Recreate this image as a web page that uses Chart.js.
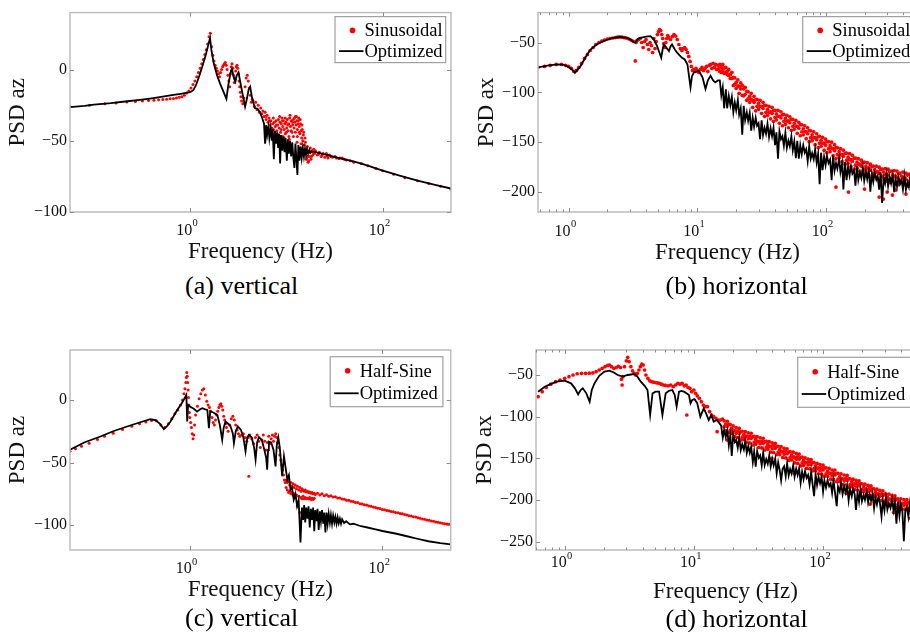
<!DOCTYPE html>
<html><head><meta charset="utf-8">
<script src="https://cdn.jsdelivr.net/npm/chart.js@4.4.1/dist/chart.umd.min.js"></script>
<style>
html,body{margin:0;padding:0;background:#fff;width:910px;height:632px;overflow:hidden;position:relative;}
canvas.panel{position:absolute;}
.cap{position:absolute;width:300px;text-align:center;font-family:"Liberation Serif",serif;font-size:26px;line-height:30px;color:#000;white-space:nowrap;}
</style></head><body>
<canvas id="ca" class="panel" style="left:0px;top:0px" width="460" height="268"></canvas>
<canvas id="cb" class="panel" style="left:455px;top:0px" width="470" height="268"></canvas>
<canvas id="cc" class="panel" style="left:0px;top:330px" width="460" height="276"></canvas>
<canvas id="cd" class="panel" style="left:455px;top:330px" width="470" height="276"></canvas>
<div class="cap" style="left:91.7px;top:271px">(a) vertical</div>
<div class="cap" style="left:586.7px;top:271px">(b) horizontal</div>
<div class="cap" style="left:91.7px;top:603.3px">(c) vertical</div>
<div class="cap" style="left:586.7px;top:604.3px">(d) horizontal</div>
<script>
// ---------- DATA (frequency in Hz, PSD in dB) ----------
const legendLabelsTop = ['Sinusoidal', 'Optimized'];
const legendLabelsBottom = ['Half-Sine', 'Optimized'];
const yTitles = ['PSD az', 'PSD ax', 'PSD az', 'PSD ax'];
const xTitle = 'Frequency (Hz)';

const xTicksAC = [1, 100];
const xTickBasesAC = ['10', '10'];
const xTickExpsAC = ['0', '2'];
const xTicksBD = [1, 10, 100];
const xTickBasesBD = ['10', '10', '10'];
const xTickExpsBD = ['0', '1', '2'];
const yTicksA = [-100, -50, 0];
const yTicksB = [-200, -150, -100, -50];
const yTicksC = [-100, -50, 0];
const yTicksD = [-250, -200, -150, -100, -50];

// Panel (a) vertical
const aOptimized = [[0.0565,-26.3],[0.08,-25.5],[0.1,-24.6],[0.15,-23.6],[0.2,-22.6],[0.3,-21.3],[0.4,-20.2],[0.5,-19.2],[0.6,-18.3],[0.7,-17.6],[0.8,-17],[0.9,-16.4],[1.0,-15.8],[1.08,-14.5],[1.15,-11],[1.25,-4],[1.35,3],[1.45,10],[1.55,18],[1.61,22],[1.66,14],[1.75,5],[1.9,-4],[2.05,-10],[2.2,-15],[2.38,-20.5],[2.5,-10],[2.65,-1],[2.72,0.5],[2.85,-6],[2.95,-8.5],[3.05,-4],[3.18,-2],[3.3,-8],[3.5,-17],[3.72,-26],[3.9,-20],[4.05,-14],[4.2,-12],[4.4,-20],[4.7,-27],[5.0,-27.5],[5.3,-30],[5.6,-34],[5.85,-38],[6.0,-52],[6.15,-39],[6.3,-46],[6.5,-40],[6.65,-48],[6.85,-41],[7.05,-50],[7.2,-42],[7.4,-63],[7.6,-43],[7.8,-52],[8.0,-44],[8.2,-55],[8.4,-45],[8.6,-66],[8.8,-46],[9.05,-57],[9.3,-47],[9.55,-58],[9.8,-48],[10.1,-64],[10.35,-49],[10.6,-59],[10.9,-50],[11.2,-61],[11.5,-51],[11.8,-62],[12.1,-69],[12.4,-52],[12.7,-63],[13.0,-74],[13.3,-53],[13.65,-64],[14.0,-54],[14.4,-62],[14.8,-55],[15.2,-61],[15.6,-55.5],[16.0,-60],[16.4,-56],[16.8,-59],[17.3,-56.5],[17.8,-58.5],[18.3,-57.5],[20,-58],[25,-59.5],[30,-61],[40,-63],[50,-64.5],[70,-67.5],[100,-71],[150,-74.5],[230,-78],[350,-81],[512,-83.5]];
const aSinusoidal = [[0.0565,-26],[0.09,-25],[0.13,-24],[0.17,-23.5],[0.22,-22.8],[0.27,-22.5],[0.32,-22],[0.37,-21.8],[0.42,-21.5],[0.47,-21.2],[0.52,-21],[0.57,-20.8],[0.62,-20.5],[0.67,-20.3],[0.72,-20],[0.77,-19.5],[0.82,-19],[0.87,-18],[0.92,-16.5],[0.97,-15],[1.02,-13],[1.07,-10.5],[1.12,-8],[1.17,-5],[1.22,-2],[1.27,1],[1.32,4],[1.37,7],[1.42,10.5],[1.47,14],[1.52,18],[1.57,23],[1.62,25.5],[1.67,16],[1.72,10],[1.77,6],[1.82,3],[1.87,1],[1.92,-1],[1.97,-3],[2.02,-5],[2.07,-2],[2.12,0],[2.17,2],[2.22,3],[2.27,4],[2.32,5],[2.37,3],[2.42,0],[2.47,-4],[2.52,-8],[2.57,-12],[2.62,-3],[2.67,2],[2.72,4],[2.77,1],[2.82,-4],[2.87,-9],[2.92,-6],[2.97,-1],[3.02,2],[3.07,3],[3.12,1],[3.17,-3],[3.22,-8],[3.27,-12],[3.32,-16],[3.37,-19],[3.42,-22],[3.52,-24],[3.62,-20],[3.72,-12],[3.82,-6],[3.92,-4],[4.02,-8],[4.12,-13],[4.22,-18],[4.32,-23],[4.42,-21],[4.5,-22],[4.65,-26],[4.8,-23],[4.95,-28],[5.1,-25],[5.25,-30],[5.4,-27],[5.55,-31],[5.7,-29],[5.85,-33],[6.0,-30],[6.1,-33],[6.15,-35],[6.3,-32],[6.4,-41],[6.45,-37],[6.6,-34],[6.7,-36],[6.75,-39],[6.9,-36],[7.0,-45],[7.05,-41],[7.2,-38],[7.2,-48],[7.3,-34],[7.35,-42],[7.5,-37],[7.6,-46],[7.65,-40],[7.8,-36],[7.9,-39],[7.95,-43],[8.0,-50],[8.1,-39],[8.2,-47],[8.25,-35],[8.4,-41],[8.5,-33],[8.55,-37],[8.7,-44],[8.8,-42],[8.85,-38],[9.0,-34],[9.1,-36],[9.15,-40],[9.2,-47],[9.3,-36],[9.4,-48],[9.45,-42],[9.6,-38],[9.7,-34],[9.75,-45],[9.9,-37],[10.0,-44],[10.05,-41],[10.2,-35],[10.3,-39],[10.4,-43],[10.6,-38],[10.6,-47],[10.7,-49],[10.8,-34],[10.9,-32],[11.0,-40],[11.2,-36],[11.2,-43],[11.4,-44],[11.5,-37],[11.6,-39],[11.8,-35],[11.8,-47],[12.0,-41],[12.1,-34],[12.2,-37],[12.4,-33],[12.4,-44],[12.6,-39],[12.7,-33],[12.8,-36],[12.9,-51],[13.0,-42],[13.0,-47],[13.2,-38],[13.3,-36],[13.4,-34],[13.6,-40],[13.6,-44],[13.8,-45],[13.9,-35],[14.0,-38],[14.1,-55],[14.2,-43],[14.2,-52],[14.4,-48],[14.5,-39],[14.6,-42],[14.8,-50],[14.8,-57],[15.0,-46],[15.1,-44],[15.2,-60],[15.3,-53],[15.4,-58],[15.6,-48],[15.7,-51],[15.9,-56],[16.0,-58],[16.0,-63],[16.2,-62],[16.3,-57],[16.5,-54],[16.6,-61],[16.8,-65],[17.0,-64],[17.1,-58],[17.4,-61],[17.5,-58],[17.7,-55],[18.0,-63],[18.2,-61],[18.4,-57],[18.8,-60],[19,-58],[19.2,-56],[19.6,-59],[20,-57],[21,-60],[21.5,-59.5],[22,-58],[23,-61],[23.5,-60],[24,-59],[25,-61.5],[26,-59],[26.5,-60.5],[27,-62],[28,-60],[29,-61],[30,-61.5],[32,-61],[33,-62],[35,-62.5],[36,-62],[38,-62],[40,-63],[42,-63.5],[46,-64],[50,-65],[60,-66],[70,-67.5],[85,-69.5],[100,-71],[130,-73.5],[170,-76],[230,-78],[300,-80],[400,-82],[512,-84]];

// Panel (b) horizontal
const bOptimized = [[0.578,-75],[0.7,-73],[0.82,-72],[0.92,-72.5],[1.0,-74.5],[1.08,-78],[1.12,-80.5],[1.18,-77],[1.24,-73.5],[1.35,-65],[1.48,-57],[1.65,-52],[1.88,-48.5],[2.18,-45.5],[2.5,-44.5],[2.8,-45],[3.03,-47],[3.2,-49.5],[3.31,-50],[3.45,-46.5],[3.62,-45.3],[4.0,-44],[4.33,-43.6],[4.6,-47],[4.88,-53.6],[5.08,-60],[5.25,-65.2],[5.4,-56],[5.5,-52],[5.75,-55],[6.03,-58.6],[6.2,-54],[6.37,-52],[6.7,-57],[6.98,-60.2],[7.3,-63],[7.62,-65.2],[8.0,-67],[8.4,-72],[8.87,-95],[9.1,-84],[9.42,-80.1],[10.3,-78.4],[11.0,-85],[11.6,-96.7],[12.1,-88],[12.7,-83.4],[13.3,-88],[13.8,-90],[14.5,-88],
[15,-88],[15.4,-103],[15.8,-95],[16.2,-116],[16.7,-97],[17.1,-116],[17.6,-103.5],[18.1,-113],[18.6,-104.5],[19.1,-120],[19.6,-110],[20.1,-118],[20.7,-107.5],[21.2,-122.5],[21.8,-116],[22.4,-142.5],[23.0,-113.5],[23.6,-128],[24.3,-120],[24.9,-128.5],[25.6,-120.5],[26.3,-138.5],[27.0,-125.5],[27.7,-134.5],[28.5,-125.5],[29.2,-133.5],[30.0,-131],[30.8,-147],[31.7,-128],[32.5,-143],[33.4,-135.5],[34.3,-141.5],[35.2,-131.5],[36.2,-145],[37.2,-136],[38.2,-144],[39.2,-135.5],[40.3,-153],[41.3,-140],[42.5,-166.5],[43.6,-139],[44.8,-147],[46.0,-144],[47.2,-153.5],[48.5,-140.5],[49.8,-155.5],[51.2,-148.5],[52.5,-154],[54.0,-144],[55.4,-158],[56.9,-149],[58.5,-166],[60.0,-148.5],[61.7,-166.5],[63.3,-153],[65.0,-162],[66.8,-153],[68.6,-160.5],[70.4,-157],[72.3,-169],[74.3,-154],[76.3,-166.5],[78.3,-161],[80.5,-167],[82.6,-157],[84.9,-170.5],[87.2,-161.5],[89.5,-192],[91.9,-160.5],[94.4,-178],[97.0,-164.5],[99.6,-173],[102,-163.5],[105,-171],[108,-167.5],[111,-188],[114,-163.5],[117,-178.5],[120,-171],[123,-176.5],[127,-166.5],[130,-180],[134,-171],[137,-197.5],[141,-170],[145,-188],[149,-174.5],[153,-183.5],[157,-174],[161,-181.5],[166,-178],[170,-193.5],[175,-174],[179,-188],[184,-180.5],[189,-186],[194,-175.5],[199,-189],[205,-179.5],[210,-187],[216,-178],[222,-199.5],[228,-182],[234,-190],[240,-180.5],[247,-187.5],[253,-184],[260,-197.5],[267,-180],[274,-211],[282,-186.5],[289,-191.5],[297,-181],[305,-194],[313,-184.5],[322,-191.5],[331,-183],[340,-200],[349,-186.5],[358,-194.5],[368,-185],[378,-192],[388,-188],[398,-197.5],[409,-183.5],[420,-197.5],[431,-190],[443,-195],[455,-184],[467,-197],[480,-187],[493,-194],[506,-185],[512,-192]];
const bSinusoidalLow = [[0.578,-75],[0.65,-74],[0.72,-73],[0.8,-72],[0.88,-72],[0.95,-73],[1.0,-74],[1.05,-76],[1.1,-79],[1.15,-78],[1.2,-75],[1.26,-71],[1.33,-66],[1.4,-62],[1.47,-58],[1.55,-55],[1.63,-52],[1.72,-50],[1.81,-48.5],[1.9,-47.5],[2.0,-46.5],[2.1,-46],[2.2,-45.5],[2.3,-45],[2.4,-44.5],[2.5,-44.3],[2.6,-44.5],[2.7,-45],[2.8,-45.5],[2.9,-46],[3.0,-47],[3.1,-48],[3.2,-49],[3.3,-68.5],[3.35,-50],[3.4,-48],[3.5,-47],[3.6,-46],[3.7,-50],[3.8,-55],[3.9,-49],[4.0,-47],[4.1,-52],[4.2,-57],[4.3,-50],[4.4,-53],[4.5,-60],[4.6,-46],[4.7,-56],[4.8,-49],[4.9,-42],[5.0,-39],[5.1,-37],[5.2,-38],[5.3,-42],[5.4,-46],[5.5,-51],[5.6,-55],[5.7,-50],[5.8,-46],[5.9,-43],[6.0,-45],[6.2,-47],[6.4,-44],[6.6,-42],[6.8,-43.5],[7.0,-47],[7.2,-52],[7.4,-56],[7.6,-58],[7.8,-56],[8.0,-55],[8.2,-57],[8.4,-60],[8.6,-64],[8.8,-69],[9.0,-74],[9.2,-78],[9.4,-77],[9.6,-79],[9.8,-76],[10.0,-78],[10.3,-80],[10.6,-77],[10.9,-75],[11.2,-78],[11.5,-76],[11.8,-74],[12.1,-79],[12.4,-73],[12.7,-72],[13.0,-76],[13.3,-71],[13.6,-75],[13.9,-72],[14.2,-77],[14.5,-73],[14.8,-76],[120,-195],[150,-200],[200,-197],[260,-205],[280,-207],[300,-200],[330,-203],[350,-198],[420,-202]];
// high-frequency cloud: [frequency, value, value]
const bSinusoidalHigh = [[15,-72,-79],[15.4,-75,-80],[15.8,-72,-78],[16.2,-75.5,-81],[16.7,-75,-80],[17.1,-79,-82],[17.6,-77,-83],[18.1,-82,-86],[18.6,-80,-86],[19.1,-85,-93],[19.6,-85.5,-92],[20.1,-90,-96],[20.7,-87.5,-93.5],[21.2,-94,-101],[21.8,-90.5,-96.5],[22.4,-93,-103],[23.0,-96.5,-103.5],[23.6,-95,-102],[24.3,-99,-108],[24.9,-99.5,-106.5],[25.6,-104,-110],[26.3,-101,-107],[27.0,-108,-115],[27.7,-104,-110],[28.5,-107.5,-118.5],[29.2,-107,-114],[30.0,-111,-117],[30.8,-108,-114],[31.7,-114,-121],[32.5,-110,-116],[33.4,-113,-124],[34.3,-113,-120],[35.2,-117,-123],[36.2,-114,-120],[37.2,-119.5,-126.5],[38.2,-115,-121],[39.2,-118,-129],[40.3,-118,-125],[41.3,-121.5,-127.5],[42.5,-118,-124],[43.6,-124,-131],[44.8,-119.5,-125.5],[46.0,-122.5,-133.5],[47.2,-122,-129],[48.5,-126,-132],[49.8,-123,-129],[51.2,-128.5,-135.5],[52.5,-124.5,-130.5],[54.0,-127,-138],[55.4,-127,-134],[56.9,-131,-137],[58.5,-128,-134],[60.0,-134,-141],[61.7,-130,-136],[63.3,-132.5,-143.5],[65.0,-132.5,-139.5],[66.8,-136.5,-142.5],[68.6,-133.5,-139.5],[70.4,-139.5,-146.5],[72.3,-135.5,-141.5],[74.3,-138.5,-149.5],[76.3,-138.5,-145.5],[78.3,-142.5,-148.5],[80.5,-139.5,-145.5],[82.6,-145.5,-152.5],[84.9,-141.5,-147.5],[87.2,-144.5,-155.5],[89.5,-144,-151],[91.9,-148,-154],[94.4,-145,-151],[97.0,-151,-158],[99.6,-147,-153],[102,-149.5,-160.5],[105,-149.5,-156.5],[108,-153.5,-159.5],[111,-150,-156],[114,-156.5,-163.5],[117,-152.5,-158.5],[120,-155.5,-166.5],[123,-155.5,-162.5],[127,-159.5,-165.5],[130,-156.5,-162.5],[134,-162.5,-169.5],[137,-158,-164],[141,-161,-172],[145,-161,-168],[149,-165,-171],[153,-161.5,-167.5],[157,-167.5,-174.5],[161,-163,-169],[166,-166,-177],[170,-166,-173],[175,-170,-176],[179,-166.5,-172.5],[184,-172,-179],[189,-168,-174],[194,-170.5,-181.5],[199,-170,-177],[205,-174,-180],[210,-170.5,-176.5],[216,-176,-183],[222,-172,-178],[228,-174.5,-185.5],[234,-174,-181],[240,-177.5,-183.5],[247,-174,-180],[253,-179.5,-186.5],[260,-175,-181],[267,-177.5,-188.5],[274,-177,-184],[282,-180,-186],[289,-176.5,-182.5],[297,-182,-189],[305,-177,-183],[313,-179.5,-190.5],[322,-179,-186],[331,-182.5,-188.5],[340,-178.5,-184.5],[349,-184,-191],[358,-179,-185],[368,-181.5,-192.5],[378,-181,-188],[388,-184,-190],[398,-180,-186],[409,-185.5,-192.5],[420,-181,-187],[431,-183,-194],[443,-182,-189],[455,-185.5,-191.5],[467,-181.5,-187.5],[480,-187,-194],[493,-182,-188],[506,-184,-195],[512,-183,-190]];

// Panel (c) vertical
const cOptimized = [[0.057,-39.8],[0.08,-34],[0.118,-29.2],[0.16,-25],[0.223,-21.2],[0.3,-18],[0.39,-15.4],[0.44,-16],[0.49,-19],[0.537,-23.3],[0.58,-21],[0.63,-17.2],[0.74,-8],[0.82,-3],[0.9,2.6],[0.92,4],[0.94,-17.2],[0.96,-4],[1.0,-5.3],[1.1,-7],[1.19,-9.3],[1.28,-7.5],[1.35,-6.6],[1.45,-7.5],[1.52,-8],[1.58,-22.6],[1.63,-9],[1.75,-10],[1.93,-11.9],[2.05,-20],[2.17,-31.8],[2.25,-22],[2.35,-17.2],[2.5,-19],[2.65,-21.2],[2.8,-27],[2.87,-34.5],[3.0,-25],[3.15,-21.2],[3.4,-24],[3.6,-30],[3.79,-41.1],[3.95,-30],[4.1,-27.9],[4.4,-30],[4.65,-38],[4.82,-47.8],[5.0,-34],[5.22,-29.7],[5.6,-32],[5.95,-40],[6.2,-46],[6.36,-55.7],[6.5,-40],[6.62,-33.2],[7.0,-34],[7.4,-40],[7.77,-53.1],[8.0,-36],[8.3,-30],[8.6,-38],[9.1,-61],[9.5,-45],[10.3,-63.7],[10.7,-60],[11.1,-71.6],[11.5,-70],[12.0,-79.6],[12.5,-75],[13.0,-84.9],[13.5,-80],[14.1,-114],[14.6,-86],[15.0,-96],[15.4,-84],[15.8,-98],[16.2,-86],[16.7,-95],[17.1,-85],[17.6,-102],[18.1,-87],[18.6,-96],[19.1,-86],[19.6,-105],[20.1,-88],[20.7,-97],[21.2,-87],[21.8,-104],[22.4,-89],[23.0,-97],[23.6,-88],[24.3,-99],[24.9,-90],[25.6,-106],[26.3,-90],[27.0,-99],[27.7,-91],[28.5,-98],[29.2,-92],[30.0,-99],[30.8,-92.5],[31.7,-98],[32.5,-93.5],[33.4,-99],[34.3,-94],[35.2,-98.5],[36.2,-95],[37.2,-99],[38.2,-95.5],[40,-98.5],[42,-97],[46,-99.5],[50,-99],[60,-101],[70,-102],[85,-103.5],[100,-104.8],[140,-107],[180,-109],[230,-111],[300,-113],[400,-114.5],[512,-115.5]];
const cHalfSineLow = [[0.057,-41],[0.065,-39],[0.075,-37],[0.09,-34.5],[0.11,-31.5],[0.13,-29],[0.16,-26.5],[0.2,-23.5],[0.25,-21],[0.3,-19],[0.35,-17.5],[0.4,-16.3],[0.45,-16.5],[0.5,-20],[0.55,-22],[0.6,-19],[0.65,-15],[0.7,-11],[0.75,-8],[0.8,-4],[0.84,0],[0.87,5],[0.89,9],[0.91,14],[0.92,18],[0.93,22],[0.94,19],[0.95,14],[0.96,8],[0.97,2],[0.98,-4],[0.99,-10],[1.0,-14],[1.02,-18],[1.04,-22],[1.06,-27],[1.08,-31],[1.1,-28],[1.12,-20],[1.15,-12],[1.2,-5],[1.25,1],[1.3,5],[1.35,8],[1.4,9],[1.45,4],[1.5,-1],[1.55,-4],[1.6,-6],[1.65,-9],[1.7,-14],[1.75,-18],[1.8,-20],[1.85,-16],[1.9,-12],[1.95,-9],[2.0,-6],[2.05,-4],[2.1,-3],[2.15,-5],[2.2,-8],[2.25,-13],[2.3,-16],[2.35,-19],[2.4,-22],[2.5,-25],[2.6,-20],[2.7,-15],[2.8,-13],[2.9,-16],[3.0,-20],[3.1,-24],[3.2,-27],[3.3,-29],[3.45,-28],[3.6,-27],[3.75,-30],[3.9,-33],[4.05,-30],[4.1,-61],[4.2,-28],[4.4,-31],[4.6,-35],[4.8,-30],[5.0,-28],[5.2,-33],[5.4,-38],[5.6,-32],[5.8,-28],[6.0,-33],[6.2,-40],[6.4,-34],[6.6,-29],[6.8,-35],[7.0,-31],[7.2,-28],[7.4,-33],[7.6,-29],[7.8,-27],[8.0,-30],[8.2,-34],[8.4,-38],[8.6,-44],[8.8,-48],[9.0,-52],[9.2,-56],[9.4,-60],[9.6,-64],[9.8,-66]];
const cHalfSineBand = [[10,-64,-70],[10.3,-66,-72],[10.6,-65,-74],[10.9,-68,-73],[11.2,-66,-75],[11.5,-69,-74],[11.8,-67,-76],[12.1,-70,-75],[12.4,-68,-77],[12.8,-71,-76],[13.1,-69,-85],[13.5,-72,-77],[13.9,-70,-90],[14.3,-73,-78],[14.6,-71,-79],[15,-72,-77],[15.4,-73,-79],[15.8,-72,-78],[16.2,-73.5,-79],[16.7,-73,-78.5],[17.1,-74,-79],[17.6,-73.5,-78],[18.1,-74.5,-79.5],[18.6,-74,-78.5],[19.1,-75,-79.5],[19.6,-74.5,-78.5]];
const cHalfSineHigh = [[20.1,-75.5],[21.2,-74.5],[22.4,-76],[23.6,-75],[24.9,-76.5],[26.3,-75.8],[27.7,-77],[29.2,-76.5],[30.8,-77.5],[32.5,-77.4],[34.3,-78.4],[36.2,-78.3],[38.2,-79.2],[40.3,-79.3],[42.5,-80.2],[44.8,-80.1],[47.2,-81],[49.8,-81.2],[52.5,-82],[55.4,-82],[58.5,-82.9],[61.7,-83.1],[65.0,-83.8],[68.6,-84],[72.3,-84.8],[76.3,-85],[80.5,-85.6],[84.9,-85.9],[89.5,-86.5],[94.4,-86.8],[99.6,-87.5],[105,-87.8],[111,-88.4],[117,-88.6],[123,-89.2],[130,-89.4],[137,-90],[145,-90.2],[153,-90.8],[161,-91],[170,-91.6],[179,-91.9],[189,-92.5],[199,-92.8],[210,-93.4],[222,-93.6],[234,-94.2],[247,-94.5],[260,-95.1],[274,-95.3],[289,-95.9],[305,-96.1],[322,-96.7],[340,-96.9],[358,-97.5],[378,-97.7],[398,-98.2],[420,-98.5],[443,-98.9],[467,-99.1],[493,-99.4],[512,-99.6]];

// Panel (d) horizontal
const dOptimized = [[0.623,-70],[0.7,-64],[0.8,-60],[0.9,-57.5],[1.0,-56.8],[1.12,-60],[1.2,-66],[1.27,-73.2],[1.33,-68],[1.38,-66],[1.47,-72],[1.56,-82],[1.62,-68],[1.7,-60],[1.85,-51],[2.03,-46],[2.22,-44.8],[2.4,-47],[2.57,-50],[2.81,-52],[3.07,-50],[3.45,-48.8],[3.65,-52],[3.88,-58],[4.15,-63],[4.37,-68],[4.58,-98],[4.78,-72],[5.05,-70],[5.37,-70],[5.7,-98],[6.04,-72],[6.4,-69],[6.8,-68],[7.1,-74],[7.34,-88],[7.66,-70],[8.0,-69],[8.37,-70],[8.75,-72],[9.14,-74],[9.4,-84],[9.69,-80],[10.1,-79],[10.6,-84],[11.2,-100],[11.9,-90],[12.4,-96],[13.0,-104],[13.6,-98],[14.2,-106],[15.0,-104],
[16.2,-110.5],[16.7,-125],[17.1,-116],[17.6,-124.5],[18.1,-116.5],[18.6,-134.5],[19.1,-122],[19.6,-147],[20.1,-122],[20.7,-130.5],[21.2,-127.5],[21.8,-137.5],[22.4,-125],[23.0,-140],[23.6,-133],[24.3,-139.5],[24.9,-129.5],[25.6,-143.5],[26.3,-135],[27.0,-143.5],[27.7,-136],[28.5,-154.5],[29.2,-142],[30.0,-160],[30.8,-141.5],[31.7,-149.5],[32.5,-146.5],[33.4,-158.5],[34.3,-143],[35.2,-158],[36.2,-151],[37.2,-156.5],[38.2,-146.5],[39.2,-160],[40.3,-151],[41.3,-158.5],[42.5,-150.5],[43.6,-168],[44.8,-155],[46.0,-164],[47.2,-176.5],[48.5,-162.5],[49.8,-159.5],[51.2,-171.5],[52.5,-156],[54.0,-170.5],[55.4,-163],[56.9,-168.5],[58.5,-158.5],[60.0,-172],[61.7,-162.5],[63.3,-170],[65.0,-162],[66.8,-179.5],[68.6,-166],[70.4,-175],[72.3,-165.5],[74.3,-173.5],[76.3,-170],[78.3,-181.5],[80.5,-166],[82.6,-181],[84.9,-195.5],[87.2,-169],[89.5,-182],[91.9,-172.5],[94.4,-180],[97.0,-172],[99.6,-190],[102,-176.5],[105,-185],[108,-176],[111,-183.5],[114,-180],[117,-191.5],[120,-176],[123,-190.5],[127,-207.5],[130,-184],[134,-190],[137,-179.5],[141,-193],[145,-183.5],[149,-191],[153,-183],[157,-200.5],[161,-187],[166,-195.5],[170,-186],[175,-193.5],[179,-212],[184,-190.5],[189,-202],[194,-187],[199,-201.5],[205,-194],[210,-200],[216,-189.5],[222,-203],[228,-193.5],[234,-201],[240,-192.5],[247,-210],[253,-197],[260,-205.5],[267,-196],[274,-203.5],[282,-220],[289,-200.5],[297,-212.5],[305,-197],[313,-211.5],[322,-204],[331,-209.5],[340,-199],[349,-212.5],[358,-203],[368,-228.5],[378,-202],[388,-219],[398,-205.5],[409,-214],[420,-249.5],[431,-212],[443,-208.5],[455,-220],[467,-204.5],[480,-219],[493,-211.5],[506,-217],[512,-208]];
const dHalfSineLow = [[0.623,-76],[0.67,-70],[0.72,-65],[0.78,-61],[0.85,-58],[0.92,-56],[1.0,-54],[1.08,-52],[1.16,-50],[1.25,-48.5],[1.35,-48],[1.45,-48],[1.55,-47.8],[1.65,-47.5],[1.75,-46],[1.85,-44],[1.95,-42],[2.05,-40],[2.15,-38.5],[2.22,-38],[2.3,-40],[2.4,-42],[2.5,-41],[2.6,-39.5],[2.7,-41],[2.75,-55],[2.78,-62],[2.82,-52],[2.9,-40],[3.0,-33],[3.07,-28.8],[3.15,-34],[3.25,-40],[3.35,-45],[3.45,-48],[3.55,-50],[3.65,-48],[3.75,-44],[3.85,-40],[3.95,-37],[4.05,-38],[4.15,-44],[4.25,-50],[4.4,-54],[4.55,-57],[4.7,-58],[4.85,-58.5],[5.0,-59],[5.2,-59.5],[5.4,-60],[5.6,-61],[5.8,-62],[6.0,-62.5],[6.3,-63],[6.6,-62],[6.9,-64],[7.2,-62],[7.5,-60],[7.8,-61],[8.1,-60],[8.4,-63],[8.7,-62],[8.8,-98],[9.0,-65],[9.3,-66],[9.6,-70],[9.98,-68],[10.3,-72],[10.6,-75],[11.0,-78],[11.4,-82],[11.8,-86],[12.2,-88],[12.7,-88],[13.2,-94],[13.7,-98],[14.2,-100],[14.8,-102],[15.1,-118],[15.4,-104],[16,-104],[16.6,-103],[16.8,-120],[18,-128],[22,-132],[40,-150],[60,-168],[100,-180],[150,-192],[230,-205],[350,-215],[470,-222]];
const dHalfSineHigh = [[17.1,-105,-112],[17.6,-109,-117],[18.1,-105.5,-111.5],[18.6,-109,-119],[19.1,-109.5,-116.5],[19.6,-114,-120],[20.1,-111,-117],[20.7,-117,-124],[21.2,-113,-120],[21.8,-117,-125],[22.4,-114,-120],[23.0,-118,-128],[23.6,-117.5,-124.5],[24.3,-121.5,-127.5],[24.9,-118,-124],[25.6,-123.5,-130.5],[26.3,-119.5,-126.5],[27.0,-123.5,-131.5],[27.7,-120,-126],[28.5,-124,-134],[29.2,-123.5,-130.5],[30.0,-127,-133],[30.8,-124,-130],[31.7,-130,-137],[32.5,-125.5,-132.5],[33.4,-129.5,-137.5],[34.3,-126,-132],[35.2,-130,-140],[36.2,-129.5,-136.5],[37.2,-133,-139],[38.2,-130,-136],[39.2,-135.5,-142.5],[40.3,-131.5,-138.5],[41.3,-135,-143],[42.5,-132,-138],[43.6,-135.5,-145.5],[44.8,-135.5,-142.5],[46.0,-139.5,-145.5],[47.2,-136,-142],[48.5,-142,-149],[49.8,-138,-145],[51.2,-141.5,-149.5],[52.5,-138.5,-144.5],[54.0,-142.5,-152.5],[55.4,-142,-149],[56.9,-146,-152],[58.5,-142.5,-148.5],[60.0,-148.5,-155.5],[61.7,-144,-151],[63.3,-148,-156],[65.0,-145,-151],[66.8,-149,-159],[68.6,-148.5,-155.5],[70.4,-152.5,-158.5],[72.3,-149.5,-155.5],[74.3,-155,-162],[76.3,-151,-158],[78.3,-154.5,-162.5],[80.5,-151.5,-157.5],[82.6,-155,-165],[84.9,-155,-162],[87.2,-159,-165],[89.5,-156,-162],[91.9,-161.5,-168.5],[94.4,-157.5,-164.5],[97.0,-161,-169],[99.6,-158,-164],[102,-161.5,-171.5],[105,-161.5,-168.5],[108,-165.5,-171.5],[111,-162,-168],[114,-168,-175],[117,-164,-171],[120,-167.5,-175.5],[123,-164,-170],[127,-168,-178],[130,-168,-175],[134,-172,-178],[137,-168.5,-174.5],[141,-174.5,-181.5],[145,-170,-177],[149,-174,-182],[153,-170.5,-176.5],[157,-174.5,-184.5],[161,-174.5,-181.5],[166,-178,-184],[170,-175,-181],[175,-180.5,-187.5],[179,-176.5,-183.5],[184,-180,-188],[189,-177,-183],[194,-180.5,-190.5],[199,-180.5,-187.5],[205,-184,-190],[210,-181,-187],[216,-186.5,-193.5],[222,-182.5,-189.5],[228,-186,-194],[234,-183,-189],[240,-186.5,-196.5],[247,-186.5,-193.5],[253,-190,-196],[260,-187,-193],[267,-192.5,-199.5],[274,-188.5,-195.5],[282,-192.5,-200.5],[289,-189,-195],[297,-193,-203],[305,-193,-200],[313,-196.5,-202.5],[322,-193,-199],[331,-199,-206],[340,-194.5,-201.5],[349,-198,-206],[358,-195,-201],[368,-199,-209],[378,-198.5,-205.5],[388,-202,-208],[398,-198.5,-204.5],[409,-204,-211],[420,-199.5,-206.5],[431,-203,-211],[443,-199.5,-205.5],[455,-203,-213],[467,-202.5,-209.5],[480,-206,-212],[493,-202.5,-208.5],[506,-208,-215],[512,-203,-210]];

// ---------- helpers ----------
const FONT = '"Liberation Serif", "Times New Roman", serif';
const toMinus = (v) => String(v).replace('-', '\u2212');
function rowsToPairs(rows) { const out = []; rows.forEach(r => { for (let k = 1; k < r.length; k++) out.push([r[0], r[k]]); }); return out; }
function toXY(pairs) { return pairs.map(p => ({x: p[0], y: p[1]})); }

const bSinusoidal = bSinusoidalLow.concat(rowsToPairs(bSinusoidalHigh));
const cHalfSine = cHalfSineLow.concat(rowsToPairs(cHalfSineBand), cHalfSineHigh);
const dHalfSine = dHalfSineLow.concat(rowsToPairs(dHalfSineHigh));

// ---------- plugins ----------
const framePlugin = {
  id: 'frame',
  afterDatasetsDraw(chart, args, opts) {
    const {ctx, chartArea: ca, scales} = chart;
    const x = scales.x, y = scales.y;
    ctx.save();
    ctx.strokeStyle = '#bdbdbd';
    ctx.lineWidth = 1.5;
    ctx.strokeRect(ca.left, ca.top, ca.right - ca.left, ca.bottom - ca.top);
    ctx.strokeStyle = '#8c8c8c';
    ctx.lineWidth = 1;
    ctx.beginPath();
    x.ticks.forEach(t => {
      const px = Math.round(x.getPixelForValue(t.value)) + 0.5;
      ctx.moveTo(px, ca.bottom); ctx.lineTo(px, ca.bottom - 4);
      ctx.moveTo(px, ca.top); ctx.lineTo(px, ca.top + 4);
    });
    if (opts.minor) {
      for (let k = -2; k <= 3; k++) {
        for (let m = 2; m <= 9; m++) {
          const v = m * Math.pow(10, k);
          if (v <= x.min || v >= x.max) continue;
          const px = Math.round(x.getPixelForValue(v)) + 0.5;
          ctx.moveTo(px, ca.bottom); ctx.lineTo(px, ca.bottom - 2.5);
          ctx.moveTo(px, ca.top); ctx.lineTo(px, ca.top + 2.5);
        }
      }
    }
    y.ticks.forEach(t => {
      const py = Math.round(y.getPixelForValue(t.value)) + 0.5;
      ctx.moveTo(ca.left, py); ctx.lineTo(ca.left + 4, py);
      ctx.moveTo(ca.right, py); ctx.lineTo(ca.right - 4, py);
    });
    ctx.stroke();
    // exponents of the x tick labels (10^n)
    ctx.fillStyle = '#111';
    ctx.font = '10.5px ' + FONT;
    ctx.textAlign = 'left';
    ctx.textBaseline = 'alphabetic';
    const midY = x.top + opts.tickPad + 9.6;
    x.ticks.forEach((t, i) => {
      const px = x.getPixelForValue(t.value);
      ctx.fillText(opts.exps[i], px + 2.3, midY - 4.3);
    });
    ctx.restore();
  }
};

const boxLegend = {
  id: 'boxLegend',
  afterDraw(chart, args, opts) {
    const {ctx, chartArea: ca} = chart;
    const left = ca.right - opts.right - opts.w;
    const top = ca.top + opts.top;
    ctx.save();
    ctx.fillStyle = '#ffffff';
    ctx.fillRect(left, top, opts.w, opts.h);
    ctx.strokeStyle = '#a0a0a0';
    ctx.lineWidth = 1.2;
    ctx.strokeRect(left, top, opts.w, opts.h);
    ctx.font = '18.5px ' + FONT;
    ctx.textBaseline = 'middle';
    ctx.textAlign = 'left';
    chart.data.datasets.forEach((ds, i) => {
      const yy = top + opts.rows[i];
      if (ds.showLine === false) {
        ctx.fillStyle = ds.backgroundColor;
        ctx.beginPath();
        ctx.arc(left + 17.5, yy, 2.8, 0, Math.PI * 2);
        ctx.fill();
      } else {
        ctx.strokeStyle = ds.borderColor;
        ctx.lineWidth = 1.8;
        ctx.beginPath();
        ctx.moveTo(left + 4, yy); ctx.lineTo(left + 28.5, yy);
        ctx.stroke();
      }
      ctx.fillStyle = '#000';
      ctx.fillText(ds.label, left + 29.5, yy + 1);
    });
    ctx.restore();
  }
};

function makeChart(id, cfg) {
  const ctx = document.getElementById(id);
  return new Chart(ctx, {
    type: 'scatter',
    data: {
      datasets: [
        {label: cfg.labels[0], data: toXY(cfg.red), showLine: false, pointRadius: cfg.dotR, pointHoverRadius: cfg.dotR,
         pointBorderWidth: 0, backgroundColor: '#ff0000', borderColor: '#ff0000', order: 1},
        {label: cfg.labels[1], data: toXY(cfg.black), showLine: true, pointRadius: 0, borderWidth: 1.8,
         borderColor: '#000000', backgroundColor: '#000000', tension: 0, order: 0}
      ]
    },
    options: {
      responsive: false,
      animation: false,
      events: [],
      layout: {padding: {left: 0, top: cfg.padTop, right: cfg.padRight, bottom: 0}},
      scales: {
        x: {
          type: 'logarithmic', min: cfg.xMin, max: cfg.xMax,
          grid: {display: false, drawTicks: false}, border: {display: false},
          afterBuildTicks: (s) => { s.ticks = cfg.xTicks.map(v => ({value: v})); },
          afterFit: (s) => { s.height = 56; },
          ticks: {autoSkip: false, maxRotation: 0, padding: cfg.xTickPad, labelOffset: -6, color: '#111',
                  font: {family: FONT, size: 16, lineHeight: 1.2},
                  callback: (v, i) => cfg.xTickBases[i]},
          title: {display: true, text: xTitle, color: '#111', font: {family: FONT, size: 23, lineHeight: 1.2},
                  padding: {top: 0, bottom: cfg.xTitlePad}}
        },
        y: {
          type: 'linear', min: cfg.yMin, max: cfg.yMax,
          grid: {display: false, drawTicks: false}, border: {display: false},
          afterBuildTicks: (s) => { s.ticks = cfg.yTicks.map(v => ({value: v})); },
          afterFit: (s) => { s.width = cfg.yWidth; },
          ticks: {autoSkip: false, padding: 3, color: '#111',
                  font: {family: FONT, size: 16, lineHeight: 1.2},
                  callback: (v) => toMinus(v)},
          title: {display: true, text: cfg.yTitle, color: '#111', font: {family: FONT, size: 23, lineHeight: 1.2},
                  padding: {top: cfg.yTitlePad, bottom: 0}}
        }
      },
      plugins: {
        legend: {display: false},
        tooltip: {enabled: false},
        frame: {minor: cfg.minor, exps: cfg.xTickExps, tickPad: cfg.xTickPad},
        boxLegend: cfg.legend
      }
    },
    plugins: [framePlugin, boxLegend]
  });
}

makeChart('ca', {labels: legendLabelsTop, red: aSinusoidal, black: aOptimized, dotR: 1.5,
  xMin: 0.0565, xMax: 512, yMin: -100, yMax: 40, xTicks: xTicksAC, xTickBases: xTickBasesAC, xTickExps: xTickExpsAC, yTicks: yTicksA,
  yTitle: yTitles[0], yWidth: 70, yTitlePad: 4.5, xTickPad: 9, xTitlePad: 2.2, padTop: 12, padRight: 9, minor: false,
  legend: {w: 110.7, h: 46, right: 5.3, top: 4, rows: [13.8, 34.5]}});
makeChart('cb', {labels: legendLabelsTop, red: bSinusoidal, black: bOptimized, dotR: 1.85,
  xMin: 0.578, xMax: 512, yMin: -220, yMax: -20, xTicks: xTicksBD, xTickBases: xTickBasesBD, xTickExps: xTickExpsBD, yTicks: yTicksB,
  yTitle: yTitles[1], yWidth: 83, yTitlePad: 18, xTickPad: 10, xTitlePad: 1.6, padTop: 12, padRight: 8, minor: true,
  legend: {w: 110, h: 46, right: 4.3, top: 4, rows: [13.8, 34.5]}});
makeChart('cc', {labels: legendLabelsBottom, red: cHalfSine, black: cOptimized, dotR: 1.5,
  xMin: 0.057, xMax: 512, yMin: -120, yMax: 40, xTicks: xTicksAC, xTickBases: xTickBasesAC, xTickExps: xTickExpsAC, yTicks: yTicksC,
  yTitle: yTitles[2], yWidth: 70, yTitlePad: 4.2, xTickPad: 9.5, xTitlePad: 2.2, padTop: 20, padRight: 9.3, minor: false,
  legend: {w: 112.7, h: 50, right: 7.8, top: 6.7, rows: [14, 36.6]}});
makeChart('cd', {labels: legendLabelsBottom, red: dHalfSine, black: dOptimized, dotR: 1.85,
  xMin: 0.623, xMax: 512, yMin: -260, yMax: -20, xTicks: xTicksBD, xTickBases: xTickBasesBD, xTickExps: xTickExpsBD, yTicks: yTicksD,
  yTitle: yTitles[3], yWidth: 81, yTitlePad: 16.2, xTickPad: 3.5, xTitlePad: 0.5, padTop: 20, padRight: 10, minor: true,
  legend: {w: 113, h: 50, right: 4.3, top: 7.3, rows: [14.4, 36.7]}});
</script>
</body></html>
